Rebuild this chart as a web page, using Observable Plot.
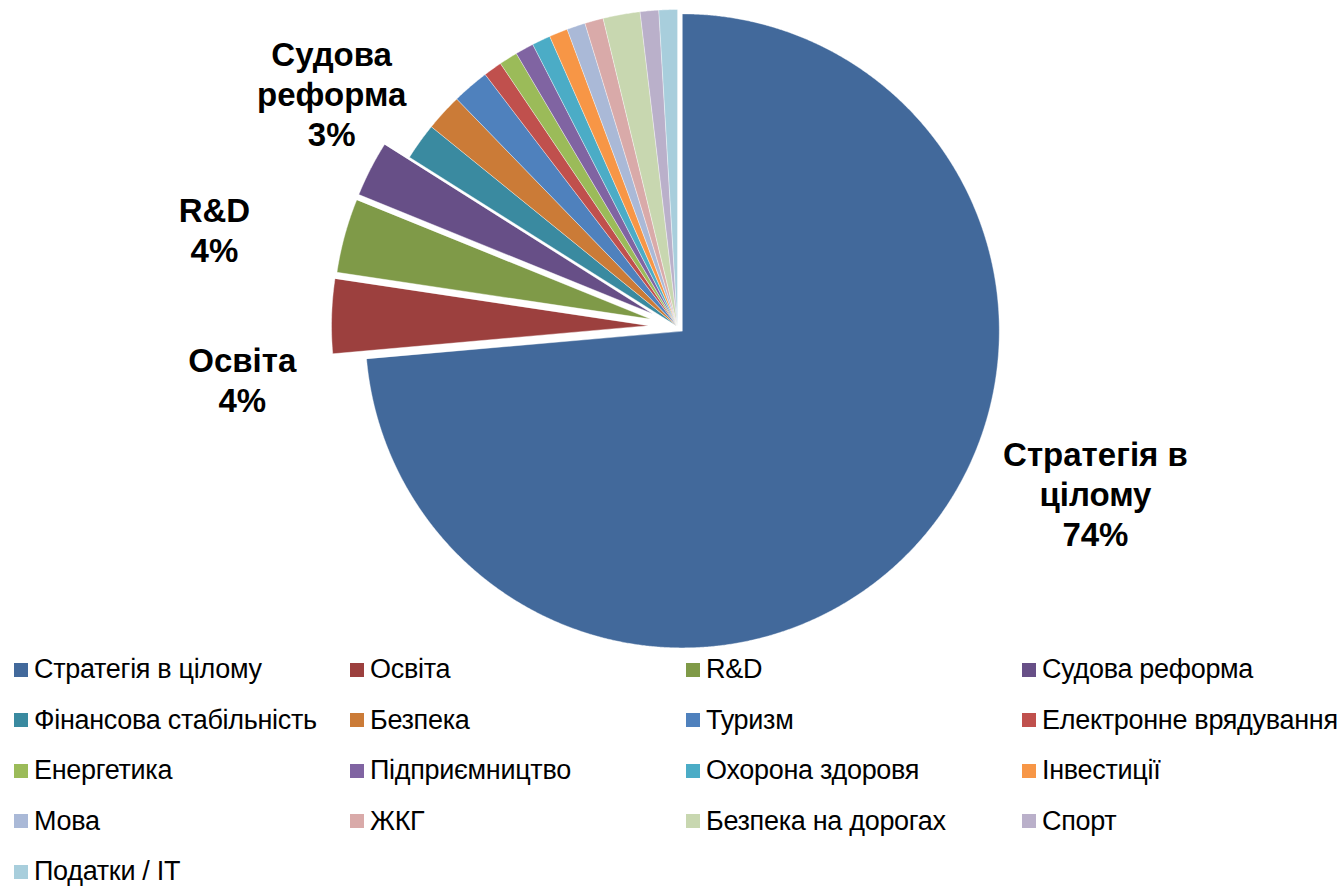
<!DOCTYPE html>
<html>
<head>
<meta charset="utf-8">
<script src="https://cdn.jsdelivr.net/npm/d3@7"></script>
<script src="https://cdn.jsdelivr.net/npm/@observablehq/plot@0.6"></script>
<style>
  html, body { margin: 0; padding: 0; background: #fff; overflow: hidden; }
  body { font-family: "Liberation Sans", Arial, sans-serif; width: 1343px; }
  #legend { margin-top: -5.5px; padding-left: 14px; }
  .lg-swatches { font-family: "Liberation Sans", Arial, sans-serif !important; font-size: 27px !important; line-height: 1 !important; color: #000 !important; margin: 0 !important; letter-spacing: -0.3px; }
  .lg-swatches-wrap { display: grid !important; grid-template-columns: repeat(4, 336px); grid-auto-rows: 50.5px; min-height: 0 !important; }
  .lg-swatches-wrap .lg-swatch { height: 50.5px; margin: 0 !important; white-space: nowrap; line-height: 1; }
  .lg-swatch > svg { margin-right: 6px !important; }
</style>
</head>
<body>
<div id="chart"></div>
<div id="legend"></div>
<script>
// ---- data ----
const categories = [
  "Стратегія в цілому", "Освіта", "R&D", "Судова реформа",
  "Фінансова стабільність", "Безпека", "Туризм", "Електронне врядування",
  "Енергетика", "Підприємництво", "Охорона здоровя", "Інвестиції",
  "Мова", "ЖКГ", "Безпека на дорогах", "Спорт", "Податки / IT"
];
const counts = [78, 4, 4, 3, 2, 2, 2, 1, 1, 1, 1, 1, 1, 1, 2, 1, 1];
const colors = [
  "#42699B", "#9C403E", "#7F9A48", "#674F87",
  "#3A8AA0", "#CB7B37", "#4F81BD", "#C0504D",
  "#9BBB59", "#8064A2", "#4BACC6", "#F79646",
  "#AAB9D7", "#D9AAA9", "#C8D7B0", "#BAB0CA", "#A8CEDC"
];
const labelled = ["Стратегія в цілому", "Освіта", "R&D", "Судова реформа"];
const labelWrap = {"Стратегія в цілому": "Стратегія в\nцілому", "Судова реформа": "Судова\nреформа"};

// ---- layout (pixels / polar placement) ----
const W = 1343, H = 650, CX = 677, CY = 326, R = 317;
const explodePx = {"Стратегія в цілому": 6.5, "Освіта": 29, "R&D": 28, "Судова реформа": 28};
const labelPolar = { // [angle clockwise from 12 o'clock in degrees, radius in pie radii]
  "Стратегія в цілому": [111.7, 1.419],
  "Освіта": [263.1, 1.383],
  "R&D": [281.9, 1.493],
  "Судова реформа": [304.0, 1.316]
};

const total = d3.sum(counts);
const arcs = d3.pie().sort(null).value(d => d)(counts);

// slice outlines in unit (pie-radius) coordinates, y up
const outline = [];
arcs.forEach((p, i) => {
  const name = categories[i];
  const mid = (p.startAngle + p.endAngle) / 2;
  const off = (explodePx[name] || 0) / R;
  const ox = off * Math.sin(mid), oy = off * Math.cos(mid);
  outline.push({name, x: ox, y: oy});
  const n = Math.max(2, Math.ceil((p.endAngle - p.startAngle) / (Math.PI / 720)));
  for (let k = 0; k <= n; k++) {
    const a = p.startAngle + (p.endAngle - p.startAngle) * k / n;
    outline.push({name, x: ox + Math.sin(a), y: oy + Math.cos(a)});
  }
});

const labels = labelled.map(name => {
  const i = categories.indexOf(name);
  const [deg, r] = labelPolar[name];
  const a = deg * Math.PI / 180;
  return {
    x: r * Math.sin(a),
    y: r * Math.cos(a),
    text: `${labelWrap[name] ?? name}\n${Math.round(counts[i] / total * 100)}%`
  };
});

const chart = Plot.plot({
  width: W,
  height: H,
  margin: 0,
  x: {domain: [-CX / R, (W - CX) / R], axis: null},
  y: {domain: [-(H - CY) / R, CY / R], axis: null},
  color: {type: "ordinal", domain: categories, range: colors},
  style: {background: "#fff", fontFamily: "'Liberation Sans', Arial, sans-serif", overflow: "visible"},
  marks: [
    Plot.line(outline, {
      x: "x", y: "y", z: "name", fill: "name",
      stroke: "white", strokeWidth: 0.6, strokeOpacity: 0.7,
      curve: "linear-closed"
    }),
    Plot.text(labels, {
      x: "x", y: "y", text: "text",
      fontSize: 33, fontWeight: "bold", lineHeight: 1.21,
      fill: "#000", textAnchor: "middle"
    })
  ]
});
document.getElementById("chart").appendChild(chart);

const legend = Plot.legend({
  color: {type: "ordinal", domain: categories, range: colors},
  legend: "swatches",
  className: "lg",
  swatchWidth: 14,
  swatchHeight: 14
});
document.getElementById("legend").appendChild(legend);
</script>
</body>
</html>
